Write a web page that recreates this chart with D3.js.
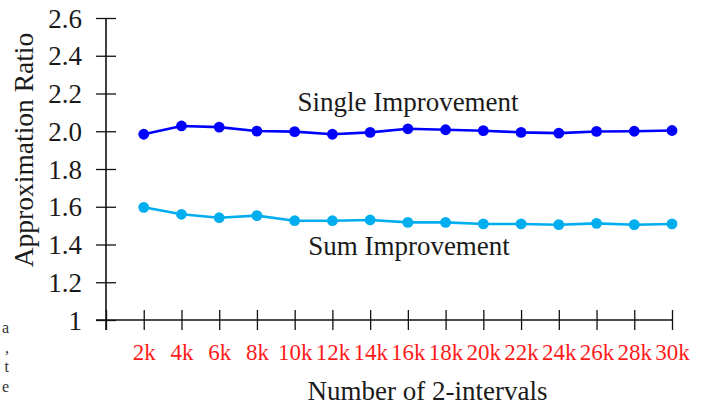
<!DOCTYPE html>
<html>
<head>
<meta charset="utf-8">
<script src="https://cdn.jsdelivr.net/npm/d3@7"></script>
<style>
  html, body { margin: 0; padding: 0; background: #fff; }
  svg { display: block; font-family: "Liberation Serif", "Times New Roman", serif; }
</style>
</head>
<body>
<svg id="chart" width="710" height="405"></svg>
<script>
// Number of 2-intervals (x) and approximation ratios for both heuristics
const intervals = [2000, 4000, 6000, 8000, 10000, 12000, 14000, 16000, 18000, 20000, 22000, 24000, 26000, 28000, 30000];
const singleImprovement = [1.984, 2.028, 2.022, 2.001, 1.998, 1.984, 1.994, 2.013, 2.008, 2.003, 1.994, 1.990, 1.999, 2.000, 2.004];
const sumImprovement = [1.597, 1.560, 1.542, 1.553, 1.526, 1.526, 1.530, 1.517, 1.517, 1.509, 1.509, 1.505, 1.512, 1.505, 1.509];

const xTicks = [0, 2000, 4000, 6000, 8000, 10000, 12000, 14000, 16000, 18000, 20000, 22000, 24000, 26000, 28000, 30000];
const xTickLabels = ["", "2k", "4k", "6k", "8k", "10k", "12k", "14k", "16k", "18k", "20k", "22k", "24k", "26k", "28k", "30k"];
const yTicks = [1, 1.2, 1.4, 1.6, 1.8, 2.0, 2.2, 2.4, 2.6];
const yTickLabels = ["1", "1.2", "1.4", "1.6", "1.8", "2.0", "2.2", "2.4", "2.6"];

const seriesNames = ["Single Improvement", "Sum Improvement"];
const marginText = ["a", ",", "t", "e"];

const svg = d3.select("#chart");

const x = d3.scaleLinear().domain([0, 30000]).range([106, 672]);
const y = d3.scaleLinear().domain([1, 2.6]).range([320, 18]);

const textColor = "#1a1a1a";

// x axis: ticks cross the axis line on both sides
const xAxis = d3.axisBottom(x)
  .tickValues(xTicks)
  .tickFormat((d, i) => xTickLabels[i])
  .tickSizeInner(10)
  .tickSizeOuter(0);
const gx = svg.append("g").attr("transform", `translate(0,${y(1)})`).call(xAxis);
gx.select(".domain").attr("d", `M${x(0) - 10},0H${x(30000)}`).attr("stroke", "#111").attr("stroke-width", 1.6);
gx.selectAll(".tick line").attr("y1", -10).attr("y2", 10).attr("stroke", "#111").attr("stroke-width", 1.3);
gx.selectAll(".tick text")
  .attr("y", 40)
  .attr("dy", 0)
  .attr("fill", "#ff1a1a")
  .attr("font-size", 23)
  .attr("font-family", "Liberation Serif, serif");

// y axis
const yAxis = d3.axisLeft(y)
  .tickValues(yTicks)
  .tickFormat((d, i) => yTickLabels[i])
  .tickSizeInner(10)
  .tickSizeOuter(0)
  .tickPadding(14);
const gy = svg.append("g").attr("transform", `translate(${x(0)},0)`).call(yAxis);
gy.select(".domain").attr("d", `M0,${y(2.6)}V${y(1) + 10}`).attr("stroke", "#111").attr("stroke-width", 1.6);
gy.selectAll(".tick line").attr("x1", -10).attr("x2", 10).attr("stroke", "#111").attr("stroke-width", 1.3);
gy.selectAll(".tick text")
  .attr("fill", textColor)
  .attr("font-size", 27)
  .attr("dy", "0.34em")
  .attr("font-family", "Liberation Serif, serif");

// axis titles
svg.append("text")
  .attr("x", 427.5)
  .attr("y", 400)
  .attr("text-anchor", "middle")
  .attr("font-size", 27)
  .attr("fill", textColor)
  .text("Number of 2-intervals");

svg.append("text")
  .attr("transform", "translate(33,150) rotate(-90)")
  .attr("text-anchor", "middle")
  .attr("font-size", 27.5)
  .attr("fill", textColor)
  .text("Approximation Ratio");

// series
const series = [
  { name: seriesNames[0], values: singleImprovement, color: "#0000ff", labelX: 408, labelY: 111 },
  { name: seriesNames[1], values: sumImprovement, color: "#00aeef", labelX: 409, labelY: 255 }
];

const line = d3.line().x((d, i) => x(intervals[i])).y(d => y(d));

series.forEach(s => {
  svg.append("path")
    .datum(s.values)
    .attr("d", line)
    .attr("fill", "none")
    .attr("stroke", s.color)
    .attr("stroke-width", 2.6);
  svg.append("g").selectAll("circle")
    .data(s.values)
    .join("circle")
    .attr("cx", (d, i) => x(intervals[i]))
    .attr("cy", d => y(d))
    .attr("r", 5.4)
    .attr("fill", s.color);
  svg.append("text")
    .attr("x", s.labelX)
    .attr("y", s.labelY)
    .attr("text-anchor", "middle")
    .attr("font-size", 27)
    .attr("fill", textColor)
    .text(s.name);
});

// line endings of the neighbouring text column at the left margin
svg.append("g").selectAll("text")
  .data(marginText)
  .join("text")
  .attr("x", 9)
  .attr("y", (d, i) => 333 + i * 19.5)
  .attr("text-anchor", "end")
  .attr("font-size", 16)
  .attr("fill", "#333")
  .text(d => d);
</script>
</body>
</html>
